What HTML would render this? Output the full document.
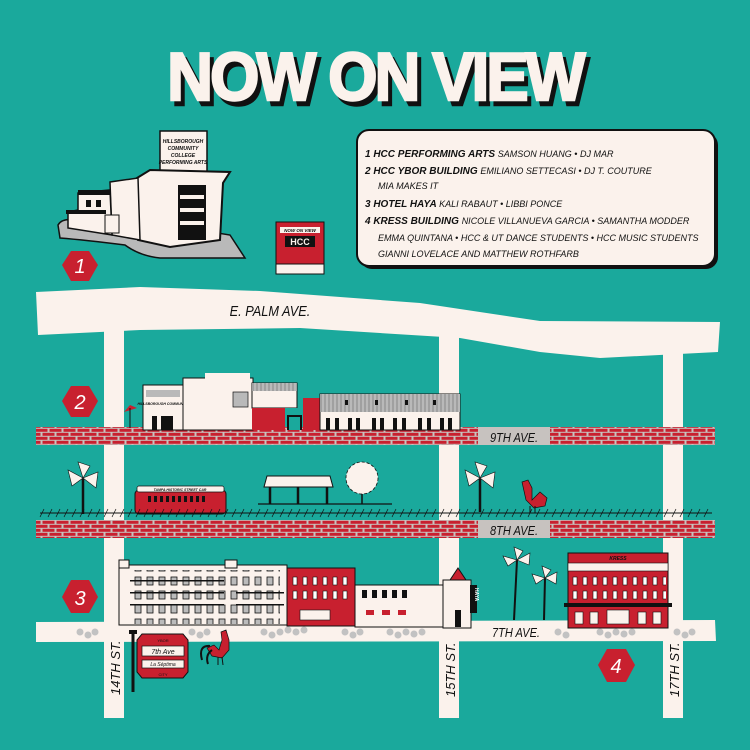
<!DOCTYPE html>
<html><head><meta charset="utf-8"><style>
html,body{margin:0;padding:0;background:#1aa99c;}
svg{display:block}
.h{font-family:"Liberation Sans",sans-serif;font-weight:bold;font-style:italic;fill:#111}
.s{font-family:"Liberation Sans",sans-serif;font-style:italic;fill:#111}
</style></head><body>
<svg width="750" height="750" viewBox="0 0 750 750" xmlns="http://www.w3.org/2000/svg">
<defs>
<pattern id="brick" width="14" height="8" patternUnits="userSpaceOnUse">
<rect width="14" height="8" fill="#c7c2bf"/>
<rect x="0.5" y="0.8" width="12" height="3" fill="#c8202f"/>
<rect x="-6.5" y="4.8" width="12" height="3" fill="#c8202f"/>
<rect x="7.5" y="4.8" width="12" height="3" fill="#c8202f"/>
</pattern>
<pattern id="roof" width="4" height="10" patternUnits="userSpaceOnUse">
<rect width="4" height="10" fill="#b9b9b9"/><line x1="1" y1="0" x2="1" y2="10" stroke="#666" stroke-width="0.6"/>
</pattern>
<pattern id="win" width="12" height="14" patternUnits="userSpaceOnUse">
<rect width="12" height="14" fill="none"/><rect x="3" y="3" width="6" height="8" fill="#bbb" stroke="#111" stroke-width="0.8"/>
</pattern>
<pattern id="rwin" width="10" height="14" patternUnits="userSpaceOnUse">
<rect x="3" y="3" width="4" height="8" fill="#fff" stroke="#111" stroke-width="0.6"/>
</pattern>
</defs>
<rect width="750" height="750" fill="#1aa99c"/>

<!-- Title -->
<g font-family="Liberation Sans, sans-serif" font-weight="900" font-size="68" text-anchor="middle" stroke-width="2.5">
<text x="379" y="105" fill="#111" stroke="#111" transform="translate(379 0) scale(0.93 1) translate(-379 0)" letter-spacing="-3">NOW ON VIEW</text>
<text x="375" y="100" fill="#fbf2ec" stroke="#fbf2ec" transform="translate(375 0) scale(0.93 1) translate(-375 0)" letter-spacing="-3">NOW ON VIEW</text>
</g>

<!-- Legend -->
<rect x="360" y="133" width="358" height="136" rx="12" fill="#111"/>
<rect x="357" y="130" width="358" height="136" rx="12" fill="#fbf2ec" stroke="#111" stroke-width="2"/>
<g font-size="10">
<text x="365" y="157" class="h">1  HCC PERFORMING ARTS <tspan class="s" font-weight="normal" font-size="9">SAMSON HUANG • DJ MAR</tspan></text>
<text x="365" y="174" class="h">2  HCC YBOR BUILDING <tspan class="s" font-weight="normal" font-size="9">EMILIANO SETTECASI • DJ T. COUTURE</tspan></text>
<text x="378" y="189" class="s" font-size="9">MIA MAKES IT</text>
<text x="365" y="207" class="h">3  HOTEL HAYA <tspan class="s" font-weight="normal" font-size="9">KALI RABAUT • LIBBI PONCE</tspan></text>
<text x="365" y="224" class="h">4  KRESS BUILDING <tspan class="s" font-weight="normal" font-size="9">NICOLE VILLANUEVA GARCIA • SAMANTHA MODDER</tspan></text>
<text x="378" y="241" class="s" font-size="9">EMMA QUINTANA • HCC &amp; UT DANCE STUDENTS • HCC MUSIC STUDENTS</text>
<text x="378" y="257" class="s" font-size="9">GIANNI LOVELACE AND MATTHEW ROTHFARB</text>
</g>

<!-- HCC Performing arts building -->
<path d="M58 225 Q62 218 75 220 L150 222 L230 235 L245 258 L160 258 Q140 256 125 245 Q85 240 60 238 Z" fill="#b9b9b9" stroke="#111" stroke-width="1.5"/>
<rect x="160" y="131" width="47" height="42" fill="#fbf2ec" stroke="#111" stroke-width="1.5"/>
<text x="183" y="143" font-size="5" text-anchor="middle" class="h">HILLSBOROUGH</text>
<text x="183" y="150" font-size="5" text-anchor="middle" class="h">COMMUNITY</text>
<text x="183" y="157" font-size="5" text-anchor="middle" class="h">COLLEGE</text>
<text x="183" y="164" font-size="5" text-anchor="middle" class="h">PERFORMING ARTS</text>
<path d="M137 178 L150 170 L230 172 L223 183 L220 240 L170 247 L138 240 Z" fill="#fbf2ec" stroke="#111" stroke-width="2"/>
<rect x="178" y="185" width="28" height="55" fill="#111"/>
<g fill="#fbf2ec"><rect x="180" y="195" width="24" height="4"/><rect x="180" y="208" width="24" height="4"/><rect x="180" y="221" width="24" height="4"/></g>
<path d="M110 182 L138 178 L140 240 L112 235 Z" fill="#fbf2ec" stroke="#111" stroke-width="1.5"/>
<path d="M78 193 L110 190 L112 235 L68 228 L68 212 L78 210 Z" fill="#fbf2ec" stroke="#111" stroke-width="1.5"/>
<rect x="78" y="190" width="32" height="5" fill="#111"/>
<rect x="66" y="210" width="40" height="4" fill="#111"/>
<rect x="105" y="215" width="14" height="18" fill="#fbf2ec" stroke="#111"/>
<rect x="86" y="200" width="5" height="7" fill="#111"/><rect x="96" y="200" width="5" height="7" fill="#111"/>
<!-- HCC sign -->
<rect x="276" y="222" width="48" height="52" fill="#c8202f" stroke="#111"/>
<rect x="276" y="264" width="48" height="10" fill="#fbf2ec" stroke="#111"/>
<rect x="280" y="227" width="40" height="6" fill="#fbf2ec"/>
<text x="300" y="232" font-size="4.5" text-anchor="middle" class="h">NOW ON VIEW</text>
<rect x="285" y="236" width="30" height="11" fill="#111"/>
<text x="300" y="245" font-size="9" text-anchor="middle" font-family="Liberation Sans,sans-serif" font-weight="bold" fill="#fbf2ec">HCC</text>

<!-- Palm Ave -->
<path d="M36 292 L140 287 L260 291 L420 303 L540 321 L720 322 L718 352 L600 358 L540 352 L460 338 L300 328 L140 330 L38 335 Z" fill="#fbf2ec"/>
<text x="270" y="316" class="s" font-size="15" text-anchor="middle" font-style="normal" transform="translate(270 0) scale(0.85 1) translate(-270 0)">E. PALM AVE.</text>

<!-- vertical streets -->
<rect x="104" y="330" width="20" height="388" fill="#fbf2ec"/>
<rect x="439" y="334" width="20" height="384" fill="#fbf2ec"/>
<rect x="663" y="350" width="20" height="368" fill="#fbf2ec"/>

<!-- 9th ave -->
<rect x="36" y="427" width="679" height="18" fill="url(#brick)"/>
<rect x="478" y="427" width="72" height="18" fill="#c7c2bf"/>
<text x="514" y="442" class="s" font-size="13" text-anchor="middle" font-style="normal" transform="translate(514 0) scale(0.85 1) translate(-514 0)">9TH AVE.</text>

<!-- 9th ave buildings -->
<rect x="143" y="385" width="40" height="45" fill="#fbf2ec" stroke="#111"/>
<rect x="146" y="390" width="34" height="7" fill="#b9b9b9"/>
<text x="163" y="405" font-size="3.5" text-anchor="middle" class="h">HILLSBOROUGH COMMUNITY</text>
<rect x="152" y="416" width="5" height="14" fill="#111"/><rect x="161" y="416" width="12" height="14" fill="#111"/>
<rect x="183" y="378" width="70" height="52" fill="#fbf2ec" stroke="#111"/>
<rect x="205" y="373" width="45" height="8" fill="#fbf2ec"/>
<rect x="233" y="392" width="15" height="15" fill="#b9b9b9" stroke="#111" stroke-width="0.7"/>
<rect x="252" y="383" width="45" height="25" fill="#fbf2ec" stroke="#111"/>
<rect x="252" y="383" width="45" height="8" fill="url(#roof)"/>
<rect x="252" y="408" width="33" height="22" fill="#c8202f"/>
<rect x="285" y="408" width="17" height="7" fill="#1aa99c"/><rect x="287" y="415" width="15" height="15" fill="#111"/><rect x="289" y="417" width="11" height="13" fill="#1aa99c"/>
<rect x="303" y="398" width="17" height="32" fill="#c8202f"/>
<rect x="320" y="394" width="140" height="36" fill="#fbf2ec" stroke="#111"/>
<rect x="320" y="394" width="140" height="18" fill="url(#roof)"/>
<g fill="#111"><rect x="326" y="418" width="4" height="12"/><rect x="335" y="418" width="4" height="12"/><rect x="348" y="418" width="4" height="12"/><rect x="356" y="418" width="4" height="12"/><rect x="372" y="418" width="4" height="12"/><rect x="380" y="418" width="4" height="12"/><rect x="393" y="418" width="4" height="12"/><rect x="402" y="418" width="4" height="12"/><rect x="418" y="418" width="4" height="12"/><rect x="427" y="418" width="4" height="12"/><rect x="440" y="418" width="4" height="12"/><rect x="448" y="418" width="4" height="12"/>
<rect x="345" y="400" width="3" height="5"/><rect x="375" y="400" width="3" height="5"/><rect x="405" y="400" width="3" height="5"/><rect x="433" y="400" width="3" height="5"/></g>
<path d="M124 412 L137 408 L130 405 Z" fill="#c8202f"/><line x1="130" y1="408" x2="130" y2="428" stroke="#111"/>

<!-- middle row -->
<g stroke="#111" stroke-width="2.5"><line x1="83" y1="478" x2="83" y2="514"/><line x1="480" y1="478" x2="480" y2="512"/></g>
<g fill="#fbf2ec" stroke="#111" stroke-width="0.6">
<path d="M83 478 L68 470 L72 486 Z"/><path d="M83 478 L98 472 L96 488 Z"/><path d="M83 478 L78 462 L90 466 Z"/>
<path d="M480 478 L465 470 L469 486 Z"/><path d="M480 478 L495 472 L493 488 Z"/><path d="M480 478 L475 462 L487 466 Z"/>
</g>
<rect x="135" y="490" width="91" height="24" rx="4" fill="#c8202f" stroke="#111"/>
<rect x="137" y="486" width="87" height="6" rx="2" fill="#fbf2ec" stroke="#111" stroke-width="0.7"/>
<text x="180" y="491" font-size="3.5" text-anchor="middle" class="h">TAMPA HISTORIC STREET CAR</text>
<g fill="#111"><rect x="148" y="496" width="3" height="6"/><rect x="154" y="496" width="3" height="6"/><rect x="160" y="496" width="3" height="6"/><rect x="166" y="496" width="3" height="6"/><rect x="172" y="496" width="3" height="6"/><rect x="178" y="496" width="3" height="6"/><rect x="184" y="496" width="3" height="6"/><rect x="190" y="496" width="3" height="6"/><rect x="196" y="496" width="3" height="6"/><rect x="202" y="496" width="3" height="6"/></g>
<path d="M267 476 L330 476 L333 487 L264 487 Z" fill="#fbf2ec" stroke="#111"/>
<g stroke="#111" stroke-width="2.5"><line x1="270" y1="487" x2="270" y2="504"/><line x1="298" y1="487" x2="298" y2="504"/><line x1="327" y1="487" x2="327" y2="504"/></g>
<line x1="258" y1="504" x2="392" y2="504" stroke="#111" stroke-width="1.2"/>
<line x1="362" y1="485" x2="362" y2="504" stroke="#111" stroke-width="1.5"/>
<circle cx="362" cy="478" r="16" fill="#fbf2ec" stroke="#111" stroke-width="0.8" stroke-dasharray="3 2"/>
<!-- rooster middle -->
<path d="M522 482 L528 480 L532 488 L532 500 L540 492 L547 498 L545 506 L534 508 L526 500 Z" fill="#c8202f" stroke="#111" stroke-width="0.7"/>
<line x1="530" y1="506" x2="530" y2="513" stroke="#111"/><line x1="535" y1="506" x2="535" y2="513" stroke="#111"/>
<!-- fence -->
<line x1="40" y1="513" x2="712" y2="513" stroke="#111" stroke-width="1"/>
<path d="M40 517 l4 -8 M48 517 l4 -8 M56 517 l4 -8 M64 517 l4 -8 M72 517 l4 -8 M80 517 l4 -8 M88 517 l4 -8 M96 517 l4 -8 M104 517 l4 -8 M112 517 l4 -8 M120 517 l4 -8 M128 517 l4 -8 M136 517 l4 -8 M144 517 l4 -8 M152 517 l4 -8 M160 517 l4 -8 M168 517 l4 -8 M176 517 l4 -8 M184 517 l4 -8 M192 517 l4 -8 M200 517 l4 -8 M208 517 l4 -8 M216 517 l4 -8 M224 517 l4 -8 M232 517 l4 -8 M240 517 l4 -8 M248 517 l4 -8 M256 517 l4 -8 M264 517 l4 -8 M272 517 l4 -8 M280 517 l4 -8 M288 517 l4 -8 M296 517 l4 -8 M304 517 l4 -8 M312 517 l4 -8 M320 517 l4 -8 M328 517 l4 -8 M336 517 l4 -8 M344 517 l4 -8 M352 517 l4 -8 M360 517 l4 -8 M368 517 l4 -8 M376 517 l4 -8 M384 517 l4 -8 M392 517 l4 -8 M400 517 l4 -8 M408 517 l4 -8 M416 517 l4 -8 M424 517 l4 -8 M432 517 l4 -8 M440 517 l4 -8 M448 517 l4 -8 M456 517 l4 -8 M464 517 l4 -8 M472 517 l4 -8 M480 517 l4 -8 M488 517 l4 -8 M496 517 l4 -8 M504 517 l4 -8 M512 517 l4 -8 M520 517 l4 -8 M528 517 l4 -8 M536 517 l4 -8 M544 517 l4 -8 M552 517 l4 -8 M560 517 l4 -8 M568 517 l4 -8 M576 517 l4 -8 M584 517 l4 -8 M592 517 l4 -8 M600 517 l4 -8 M608 517 l4 -8 M616 517 l4 -8 M624 517 l4 -8 M632 517 l4 -8 M640 517 l4 -8 M648 517 l4 -8 M656 517 l4 -8 M664 517 l4 -8 M672 517 l4 -8 M680 517 l4 -8 M688 517 l4 -8 M696 517 l4 -8 M704 517 l4 -8" stroke="#111" stroke-width="0.7"/>

<!-- 8th ave -->
<rect x="36" y="520" width="679" height="18" fill="url(#brick)"/>
<rect x="478" y="520" width="72" height="18" fill="#c7c2bf"/>
<text x="514" y="535" class="s" font-size="13" text-anchor="middle" font-style="normal" transform="translate(514 0) scale(0.85 1) translate(-514 0)">8TH AVE.</text>

<!-- 7th ave -->
<path d="M36 622 L715 620 L716 641 L36 642 Z" fill="#fbf2ec"/>
<g fill="#c2c2c2">
<circle cx="80" cy="632" r="3.5"/><circle cx="88" cy="635" r="3.5"/><circle cx="95" cy="632" r="3.5"/>
<circle cx="192" cy="632" r="3.5"/><circle cx="200" cy="635" r="3.5"/><circle cx="207" cy="632" r="3.5"/>
<circle cx="264" cy="632" r="3.5"/><circle cx="272" cy="635" r="3.5"/><circle cx="280" cy="632" r="3.5"/><circle cx="288" cy="630" r="3.5"/><circle cx="296" cy="632" r="3.5"/><circle cx="304" cy="630" r="3.5"/>
<circle cx="345" cy="632" r="3.5"/><circle cx="353" cy="635" r="3.5"/><circle cx="360" cy="632" r="3.5"/>
<circle cx="390" cy="632" r="3.5"/><circle cx="398" cy="635" r="3.5"/><circle cx="406" cy="632" r="3.5"/><circle cx="414" cy="634" r="3.5"/><circle cx="422" cy="632" r="3.5"/>
<circle cx="558" cy="632" r="3.5"/><circle cx="566" cy="635" r="3.5"/>
<circle cx="600" cy="632" r="3.5"/><circle cx="608" cy="635" r="3.5"/><circle cx="616" cy="632" r="3.5"/><circle cx="624" cy="634" r="3.5"/><circle cx="632" cy="632" r="3.5"/>
<circle cx="677" cy="632" r="3.5"/><circle cx="685" cy="635" r="3.5"/><circle cx="692" cy="632" r="3.5"/>
</g>
<text x="516" y="637" class="s" font-size="13" text-anchor="middle" font-style="normal" transform="translate(516 0) scale(0.85 1) translate(-516 0)">7TH AVE.</text>

<!-- street labels -->
<g class="s" font-size="13" font-style="normal">
<text transform="translate(120 695) rotate(-90)">14TH ST.</text>
<text transform="translate(455 697) rotate(-90)">15TH ST.</text>
<text transform="translate(679 697) rotate(-90)">17TH ST.</text>
</g>

<!-- 7th ave buildings -->
<rect x="119" y="565" width="168" height="60" fill="#fbf2ec" stroke="#111"/>
<rect x="119" y="560" width="10" height="8" fill="#fbf2ec" stroke="#111"/>
<rect x="225" y="560" width="12" height="8" fill="#fbf2ec" stroke="#111"/>
<rect x="130" y="570" width="150" height="38" fill="url(#win)"/>
<g fill="#111"><rect x="130" y="580" width="94" height="1.5"/><rect x="130" y="592" width="94" height="1.5"/><rect x="130" y="604" width="94" height="1.5"/><rect x="236" y="592" width="48" height="1.5"/><rect x="236" y="604" width="48" height="1.5"/></g>
<rect x="130" y="608" width="150" height="16" fill="url(#win)"/>
<rect x="287" y="568" width="68" height="58" fill="#c8202f" stroke="#111"/>
<rect x="290" y="573" width="62" height="30" fill="url(#rwin)"/>
<rect x="300" y="610" width="30" height="10" fill="#fbf2ec" stroke="#111" stroke-width="0.6"/>
<rect x="355" y="585" width="88" height="42" fill="#fbf2ec" stroke="#111"/>
<rect x="443" y="580" width="28" height="48" fill="#fbf2ec" stroke="#111"/>
<polygon points="450,580 458,568 466,580" fill="#c8202f" stroke="#111"/>
<rect x="470" y="585" width="7" height="28" fill="#111"/>
<text transform="translate(475 588) rotate(90)" font-size="5" fill="#fff" font-family="Liberation Sans,sans-serif" font-weight="bold">HAYA</text>
<g fill="#111"><rect x="362" y="590" width="5" height="8"/><rect x="372" y="590" width="5" height="8"/><rect x="382" y="590" width="5" height="8"/><rect x="392" y="590" width="5" height="8"/><rect x="402" y="590" width="5" height="8"/><rect x="455" y="610" width="6" height="17"/></g>
<g fill="#c8202f"><rect x="366" y="610" width="8" height="5"/><rect x="382" y="610" width="8" height="5"/><rect x="398" y="610" width="8" height="5"/></g>
<!-- palms 7th -->
<g stroke="#111" stroke-width="2"><line x1="517" y1="560" x2="514" y2="620"/><line x1="545" y1="578" x2="544" y2="620"/></g>
<g fill="#fbf2ec" stroke="#111" stroke-width="0.6">
<path d="M517 560 L503 556 L508 566 Z"/><path d="M517 560 L530 553 L529 565 Z"/><path d="M517 560 L514 547 L523 551 Z"/>
<path d="M545 578 L532 574 L536 584 Z"/><path d="M545 578 L557 572 L556 584 Z"/><path d="M545 578 L542 566 L551 570 Z"/>
</g>
<!-- Kress -->
<rect x="568" y="553" width="100" height="75" fill="#c8202f" stroke="#111"/>
<rect x="568" y="563" width="100" height="8" fill="#fbf2ec" stroke="#111" stroke-width="0.6"/>
<rect x="570" y="573" width="96" height="30" fill="url(#rwin)"/>
<rect x="564" y="603" width="108" height="4" fill="#111"/>
<text x="618" y="560" font-size="5" text-anchor="middle" class="h" font-style="normal">KRESS</text>
<g fill="#fbf2ec" stroke="#111" stroke-width="0.6"><rect x="575" y="612" width="8" height="12"/><rect x="590" y="612" width="8" height="12"/><rect x="638" y="612" width="8" height="12"/><rect x="653" y="612" width="8" height="12"/><rect x="607" y="610" width="22" height="14"/></g>

<!-- hexes -->
<polygon points="62,597 71,580 89,580 98,597 89,613 71,613" fill="#c8202f"/>
<text x="80" y="605" text-anchor="middle" font-family="Liberation Sans,sans-serif" font-style="italic" font-size="20" fill="#fff">3</text>
<polygon points="598,665 607,649 626,649 635,665 626,682 607,682" fill="#c8202f"/>
<text x="616" y="673" text-anchor="middle" font-family="Liberation Sans,sans-serif" font-style="italic" font-size="20" fill="#fff">4</text>
<polygon points="62,265 71,251 89,251 98,265 89,281 71,281" fill="#c8202f"/>
<text x="80" y="273" text-anchor="middle" font-family="Liberation Sans,sans-serif" font-style="italic" font-size="20" fill="#fff">1</text>
<polygon points="62,401 71,386 89,386 98,401 89,417 71,417" fill="#c8202f"/>
<text x="80" y="409" text-anchor="middle" font-family="Liberation Sans,sans-serif" font-style="italic" font-size="20" fill="#fff">2</text>

<!-- Ybor sign -->
<line x1="133" y1="632" x2="133" y2="692" stroke="#111" stroke-width="3"/>
<rect x="129" y="630" width="8" height="4" fill="#111"/>
<path d="M142 634 L183 634 L188 640 L188 672 L183 678 L142 678 L137 672 L137 640 Z" fill="#c8202f" stroke="#111"/>
<rect x="142" y="646" width="42" height="10" fill="#fbf2ec" stroke="#111" stroke-width="0.7"/>
<rect x="142" y="660" width="42" height="8" fill="#fbf2ec" stroke="#111" stroke-width="0.7"/>
<text x="163" y="654" font-size="7" text-anchor="middle" class="s" font-style="normal">7th Ave</text>
<text x="163" y="666" font-size="5" text-anchor="middle" class="s" font-style="normal">La Séptima</text>
<text x="163" y="642" font-size="4" text-anchor="middle" fill="#111" font-family="Liberation Sans,sans-serif">YBOR</text>
<text x="163" y="676" font-size="4" text-anchor="middle" fill="#111" font-family="Liberation Sans,sans-serif">CITY</text>
<!-- rooster bottom -->
<path d="M221 632 L226 630 L229 640 L229 650 L222 658 L212 656 L207 648 L214 645 L219 650 L222 640 Z" fill="#c8202f" stroke="#111" stroke-width="0.7"/>
<path d="M210 646 Q198 645 202 660 M212 650 Q205 655 208 664" stroke="#111" stroke-width="2" fill="none"/>
<line x1="218" y1="657" x2="218" y2="665" stroke="#111"/><line x1="222" y1="657" x2="223" y2="665" stroke="#111"/>
</svg>
</body></html>
